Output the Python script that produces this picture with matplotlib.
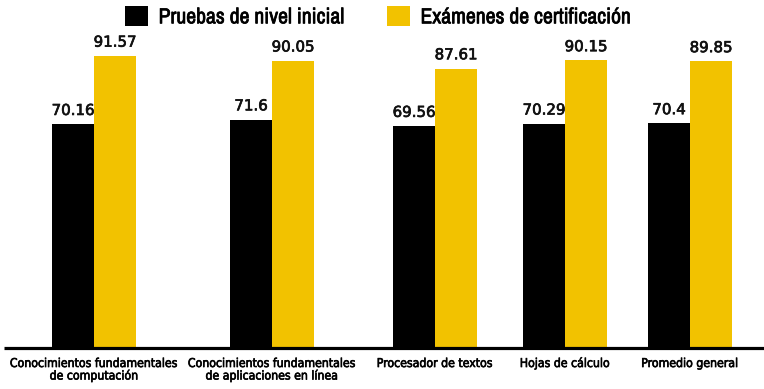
import matplotlib
matplotlib.use("Agg")
import matplotlib.pyplot as plt
from matplotlib.patches import Patch
import matplotlib.patheffects as pe

categories = ["Conocimientos fundamentales\nde computación",
              "Conocimientos fundamentales\nde aplicaciones en línea",
              "Procesador de textos",
              "Hojas de cálculo",
              "Promedio general"]
series_names = ["Pruebas de nivel inicial", "Exámenes de certificación"]
inicial = [70.16, 71.6, 69.56, 70.29, 70.4]
certificacion = [91.57, 90.05, 87.61, 90.15, 89.85]
inicial_labels = ["70.16", "71.6", "69.56", "70.29", "70.4"]
cert_labels = ["91.57", "90.05", "87.61", "90.15", "89.85"]

colors = ["#000000", "#F2C200"]
narrow = ["Archivo Narrow", "DejaVu Sans"]

W, H = 764, 389
fig = plt.figure(figsize=(W / 100, H / 100), dpi=100)
base_px = 348
top_px = 29
ax = fig.add_axes([0, (H - base_px) / H, 1, (base_px - top_px) / H])

# layout: group centres in pixel-like x units
centers = [94, 272, 435, 565, 690]
bw = 42
ax.set_xlim(0, W)
ax.set_ylim(0, 100)

b1 = ax.bar([c - bw / 2 for c in centers], inicial, width=bw, color=colors[0], zorder=2)
b2 = ax.bar([c + bw / 2 for c in centers], certificacion, width=bw, color=colors[1], zorder=2)

bold_fx = [pe.withStroke(linewidth=0.5, foreground="#111111")]
for rects, labs in ((b1, inicial_labels), (b2, cert_labels)):
    for r, lab in zip(rects, labs):
        ax.annotate(lab, (r.get_x() + r.get_width() / 2, r.get_height()),
                    xytext=(0, 4.5), textcoords="offset points",
                    ha="center", va="bottom", fontsize=10.8,
                    family="DejaVu Sans", color="#111111", path_effects=bold_fx)

ax.plot([4, W], [0, 0], color="black", lw=2.3, solid_capstyle="butt", zorder=3, clip_on=False)

for s in ax.spines.values():
    s.set_visible(False)
ax.set_yticks([])
ax.set_xticks(centers)
ax.set_xticklabels(categories, family="DejaVu Sans", fontstretch="condensed",
                   fontsize=8.8, linespacing=0.95,
                   path_effects=[pe.withStroke(linewidth=0.45, foreground="black")])
ax.tick_params(axis="x", length=0, pad=6.5)

handles = [Patch(facecolor=colors[0]), Patch(facecolor=colors[1])]
leg = fig.legend(handles, series_names, loc="upper center", bbox_to_anchor=(0.494, 1.035),
                 ncol=2, frameon=False, handlelength=1.05, handleheight=1.05,
                 handletextpad=0.5, columnspacing=2.0,
                 prop={"family": narrow, "size": 15.6})
for t in leg.get_texts():
    t.set_path_effects([pe.withStroke(linewidth=0.5, foreground="black")])

fig.savefig("out.png", dpi=100)
